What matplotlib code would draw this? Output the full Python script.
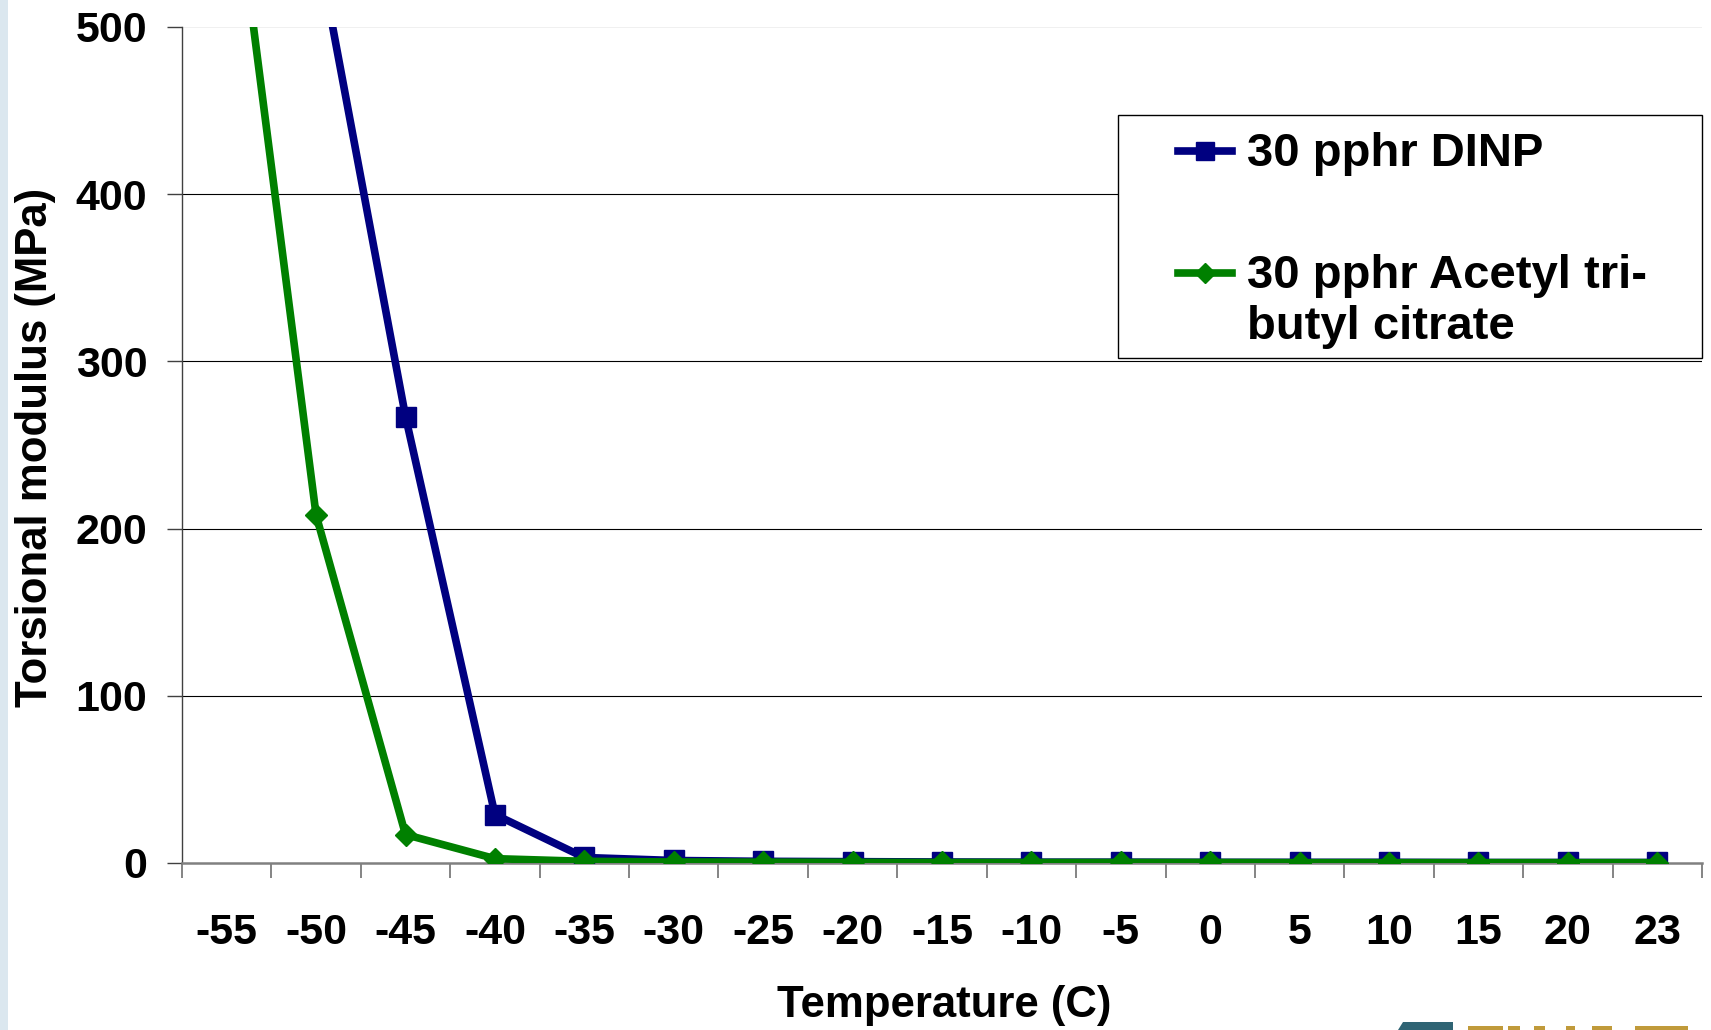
import numpy as np
import matplotlib
matplotlib.use("Agg")
import matplotlib.pyplot as plt
from matplotlib.lines import Line2D
from matplotlib.patches import Rectangle, Polygon

# Torsional modulus vs temperature for two plasticiser systems
temps = ["-55", "-50", "-45", "-40", "-35", "-30", "-25", "-20", "-15",
         "-10", "-5", "0", "5", "10", "15", "20", "23"]
dinp = [np.nan, 553, 267, 29, 3.3, 1.5, 1.0, 0.8, 0.6, 0.5, 0.5, 0.4, 0.4,
        0.4, 0.3, 0.3, 0.3]
atbc = [625, 208, 17, 2.6, 1.0, 0.6, 0.5, 0.4, 0.3, 0.3, 0.3, 0.3, 0.2,
        0.2, 0.2, 0.2, 0.2]
yticks = [0, 100, 200, 300, 400, 500]
labels = ["30 pphr DINP", "30 pphr Acetyl tri-\nbutyl citrate"]

W, H = 1711, 1030
plt.rcParams["font.family"] = ["Liberation Sans", "DejaVu Sans"]
plt.rcParams["font.weight"] = "bold"

fig = plt.figure(figsize=(W / 100, H / 100), dpi=100)


def fx(x):
    return x / W


def fy(y):
    return 1 - y / H


ax = fig.add_axes([fx(182), fy(863), fx(1702) - fx(182), fy(27) - fy(863)])

x = np.arange(len(temps))
for yv in yticks[1:-1]:
    ax.axhline(yv, color="black", lw=0.8, zorder=1)
ax.axhline(yticks[-1], color="#eeeeee", lw=1.2, zorder=1)

ax.plot(x, dinp, color="#000080", lw=5.5, marker="s", markersize=15,
        zorder=3, solid_joinstyle="miter")
ax.plot(x, atbc, color="#008000", lw=5.5, marker="D", markersize=11.5,
        zorder=4, solid_joinstyle="miter")

ax.set_xlim(-0.5, len(temps) - 0.5)
ax.set_ylim(0, 500)
ax.set_yticks(yticks)
ax.set_yticklabels([str(v) for v in yticks], fontsize=31, fontweight="bold")
ax.tick_params(axis="y", direction="out", length=11, width=1,
               color="#404040", pad=14)

ax.set_xticks(x)
ax.set_xticklabels(temps, fontsize=31, fontweight="bold")
ax.set_xticks(np.arange(len(temps) + 1) - 0.5, minor=True)
ax.tick_params(axis="x", which="major", length=0, pad=36)
ax.tick_params(axis="x", which="minor", direction="out", length=11,
               width=1.2, color="#707070")

for s in ("top", "right"):
    ax.spines[s].set_visible(False)
ax.spines["left"].set_color("#404040")
ax.spines["left"].set_linewidth(1.0)
ax.spines["bottom"].set_color("#808080")
ax.spines["bottom"].set_linewidth(1.8)

fig.text(fx(36), fy(447), "Torsional modulus (MPa)", rotation=90,
         fontsize=31.5, fontweight="bold", ha="center", va="center")
fig.text(fx(944), fy(1006), "Temperature (C)", fontsize=31.5,
         fontweight="bold", ha="center", va="center")

# legend drawn by hand so the handle sits on the first line of the label
box = Rectangle((fx(1118), fy(358)), fx(1702) - fx(1118), fy(115) - fy(358),
                transform=fig.transFigure, facecolor="white",
                edgecolor="black", lw=1.0, zorder=5)
fig.add_artist(box)
handles = [("#000080", "s", 13), ("#008000", "D", 10)]
rows = [151, 273]
for (c, m, ms), yy, lab in zip(handles, rows, labels):
    fig.add_artist(Line2D([fx(1178), fx(1232)], [fy(yy), fy(yy)],
                          transform=fig.transFigure, color=c, lw=5.5,
                          zorder=6))
    fig.add_artist(Line2D([fx(1205)], [fy(yy)], transform=fig.transFigure,
                          color=c, marker=m, markersize=ms, zorder=7))
    fig.text(fx(1247), fy(yy - 19), lab, fontsize=34, fontweight="bold",
             ha="left", va="top", linespacing=1.22, zorder=7)

# light strip along the left edge
fig.add_artist(Rectangle((0, 0), fx(8), 1, transform=fig.transFigure,
                         facecolor="#dbe7ef", edgecolor="none"))

# cut-off logo at the bottom right
fig.add_artist(Polygon([(fx(1398), fy(1030)), (fx(1403), fy(1022)),
                        (fx(1453), fy(1022)), (fx(1453), fy(1030))],
                       closed=True, transform=fig.transFigure,
                       facecolor="#2f6474", edgecolor="none"))
for x0, x1 in [(1468, 1503), (1508, 1520), (1534, 1545), (1566, 1575),
               (1592, 1612), (1635, 1688)]:
    fig.add_artist(Rectangle((fx(x0), 0), fx(x1) - fx(x0), 4 / H,
                             transform=fig.transFigure,
                             facecolor="#c09a3a", edgecolor="none"))

fig.savefig("out.png", dpi=100)
